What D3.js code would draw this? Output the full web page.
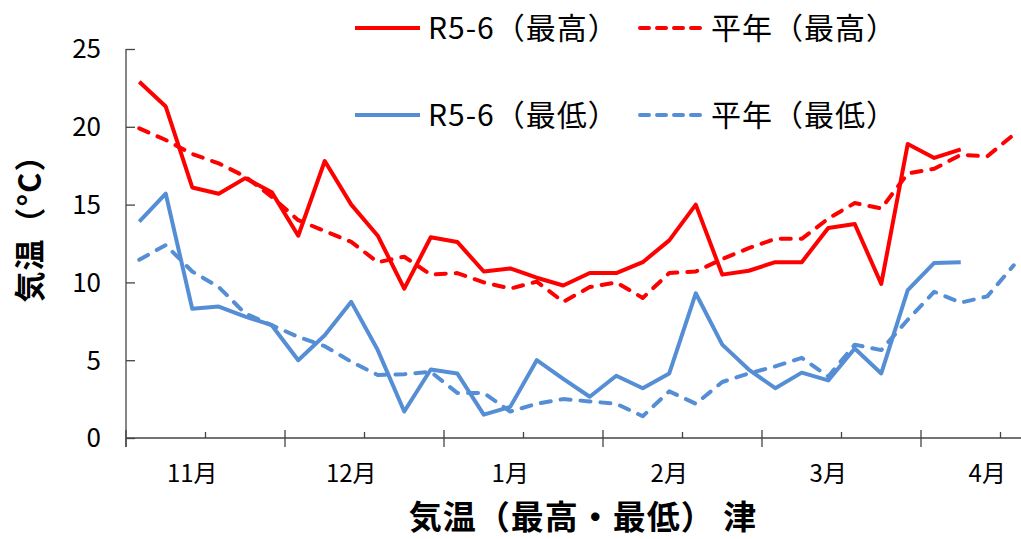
<!DOCTYPE html>
<html lang="ja">
<head>
<meta charset="UTF-8">
<title>気温(最高・最低) 津</title>
<script src="https://d3js.org/d3.v7.min.js"></script>
<style>
    body { margin: 0; background: #fff; }
    text { font-family: "Noto Sans CJK JP", "Noto Sans", sans-serif; fill: #000; }
</style>
</head>
<body>
<div id="chart"></div>
<script>
// 半旬ごとのカテゴリ (11月〜4月)
var categories = [
    "11/1", "11/2", "11/3", "11/4", "11/5", "11/6",
    "12/1", "12/2", "12/3", "12/4", "12/5", "12/6",
    "1/1", "1/2", "1/3", "1/4", "1/5", "1/6",
    "2/1", "2/2", "2/3", "2/4", "2/5", "2/6",
    "3/1", "3/2", "3/3", "3/4", "3/5", "3/6",
    "4/1", "4/2", "4/3", "4/4", "4/5", "4/6"
];
var months = ["11月", "12月", "1月", "2月", "3月", "4月"];
var yTicks = [0, 5, 10, 15, 20, 25];

// R5-6 (最高)
var maxThisYear = [22.9, 21.3, 16.1, 15.7, 16.7, 15.8, 13.0, 17.8, 15.0, 13.0, 9.6, 12.9,
    12.6, 10.7, 10.9, 10.3, 9.8, 10.6, 10.6, 11.3, 12.7, 15.0, 10.5, 10.75,
    11.3, 11.3, 13.5, 13.75, 9.9, 18.9, 18.0, 18.55];
// 平年 (最高)
var maxNormal = [19.9, 19.15, 18.25, 17.65, 16.8, 15.5, 14.0, 13.3, 12.6, 11.3, 11.65, 10.5,
    10.6, 10.0, 9.6, 10.05, 8.75, 9.7, 10.0, 9.0, 10.6, 10.7, 11.5, 12.2,
    12.8, 12.8, 14.1, 15.1, 14.75, 17.0, 17.3, 18.2, 18.1, 19.5];
// R5-6 (最低)
var minThisYear = [13.9, 15.7, 8.3, 8.45, 7.8, 7.25, 5.0, 6.6, 8.75, 5.65, 1.7, 4.4,
    4.15, 1.5, 2.0, 5.0, 3.8, 2.65, 4.0, 3.2, 4.15, 9.3, 6.0, 4.4,
    3.2, 4.2, 3.7, 5.75, 4.15, 9.5, 11.25, 11.3];
// 平年 (最低)
var minNormal = [11.45, 12.4, 10.7, 9.7, 8.0, 7.25, 6.5, 5.9, 4.9, 4.05, 4.1, 4.25,
    2.9, 2.9, 1.7, 2.2, 2.5, 2.35, 2.2, 1.4, 3.0, 2.2, 3.6, 4.15,
    4.6, 5.15, 3.95, 6.0, 5.65, 7.6, 9.4, 8.7, 9.1, 11.1];

var red = "#ff0000", blue = "#558ed5";
var dashStyle = "10,10";
var series = [
    { name: "R5-6（最高）", values: maxThisYear, color: red, dash: null },
    { name: "平年（最高）", values: maxNormal, color: red, dash: dashStyle },
    { name: "R5-6（最低）", values: minThisYear, color: blue, dash: null },
    { name: "平年（最低）", values: minNormal, color: blue, dash: dashStyle }
];

var W = 1021, H = 539;
var margin = { top: 49, left: 126, bottom: 101 };
var plotH = H - margin.top - margin.bottom;

var svg = d3.select("#chart").append("svg")
    .attr("width", W)
    .attr("height", H);

// the plot runs past the right edge of the picture, as in the original
var x = d3.scaleBand()
    .domain(categories)
    .range([margin.left, margin.left + 954]);

var y = d3.scaleLinear()
    .domain([0, 25])
    .range([margin.top + plotH, margin.top]);

var axisColor = "#444";

// y axis: line, inner ticks, labels
var yAxis = svg.append("g")
    .attr("transform", "translate(" + margin.left + ",0)")
    .call(d3.axisRight(y).tickValues(yTicks).tickSize(9).tickFormat(""));
yAxis.select(".domain").remove();
yAxis.selectAll("line").attr("stroke", axisColor).attr("stroke-width", 1.3);
svg.append("line")
    .attr("x1", margin.left).attr("x2", margin.left)
    .attr("y1", y(25)).attr("y2", y(0) + 9)
    .attr("stroke", axisColor).attr("stroke-width", 1.3);

svg.selectAll(".ylab")
    .data(yTicks)
    .enter().append("text")
    .attr("class", "ylab")
    .attr("x", 101)
    .attr("y", function (d) { return y(d); })
    .attr("dy", "0.36em")
    .attr("text-anchor", "end")
    .style("font-size", "26px")
    .text(function (d) { return d; });

// x axis line
svg.append("line")
    .attr("x1", margin.left).attr("x2", W)
    .attr("y1", y(0)).attr("y2", y(0))
    .attr("stroke", axisColor).attr("stroke-width", 1.3);

// major ticks every month, minor ticks at half month
var boundaries = categories.filter(function (d, i) { return i % 3 == 0; });
svg.selectAll(".xtick")
    .data(boundaries)
    .enter().append("line")
    .attr("class", "xtick")
    .attr("x1", function (d) { return x(d); })
    .attr("x2", function (d) { return x(d); })
    .attr("y1", function (d, i) { return i % 2 == 0 ? y(0) - 8 : y(0) - 6; })
    .attr("y2", function (d, i) { return i % 2 == 0 ? y(0) + 9 : y(0); })
    .attr("stroke", axisColor).attr("stroke-width", 1.3);

// month labels sit under the 3rd pentad of each month
svg.selectAll(".mlab")
    .data(months)
    .enter().append("text")
    .attr("class", "mlab")
    .attr("x", function (d, i) { return x(categories[i * 6 + 2]) + x.bandwidth() / 2; })
    .attr("y", 482)
    .attr("text-anchor", "middle")
    .style("font-size", "24px")
    .text(function (d) { return d; });

// lines
var line = d3.line()
    .x(function (d, i) { return x(categories[i]) + x.bandwidth() / 2; })
    .y(function (d) { return y(d); });

series.forEach(function (s) {
    svg.append("path")
        .datum(s.values)
        .attr("d", line)
        .attr("fill", "none")
        .attr("stroke", s.color)
        .attr("stroke-width", 4)
        .attr("stroke-linejoin", "round")
        .attr("stroke-linecap", s.dash ? "round" : "butt")
        .attr("stroke-dasharray", s.dash);
});

// legend (2 x 2)
var legendPos = [
    { x: 355, y: 28 }, { x: 638, y: 28 },
    { x: 355, y: 115 }, { x: 638, y: 115 }
];
series.forEach(function (s, i) {
    var p = legendPos[i];
    svg.append("line")
        .attr("x1", p.x + (s.dash ? 2 : 0)).attr("x2", p.x + (s.dash ? 67 : 65))
        .attr("y1", p.y).attr("y2", p.y)
        .attr("stroke", s.color)
        .attr("stroke-width", 4)
        .attr("stroke-linecap", s.dash ? "round" : "butt")
        .attr("stroke-dasharray", s.dash ? "9,8" : null);
    svg.append("text")
        .attr("x", p.x + 73)
        .attr("y", p.y)
        .attr("dy", "0.36em")
        .style("font-size", "30px")
        .style("letter-spacing", "1px")
        .text(s.name);
});

// axis titles
svg.append("text")
    .attr("transform", "translate(41,221) rotate(-90)")
    .attr("text-anchor", "middle")
    .style("font-size", "31px")
    .style("font-weight", "bold")
    .style("letter-spacing", "1px")
    .text("気温（°C）");

svg.append("text")
    .attr("x", 583)
    .attr("y", 517)
    .attr("dy", "0.36em")
    .attr("text-anchor", "middle")
    .style("font-size", "33px")
    .style("font-weight", "bold")
    .style("letter-spacing", "1px")
    .text("気温（最高・最低） 津");
</script>
</body>
</html>
